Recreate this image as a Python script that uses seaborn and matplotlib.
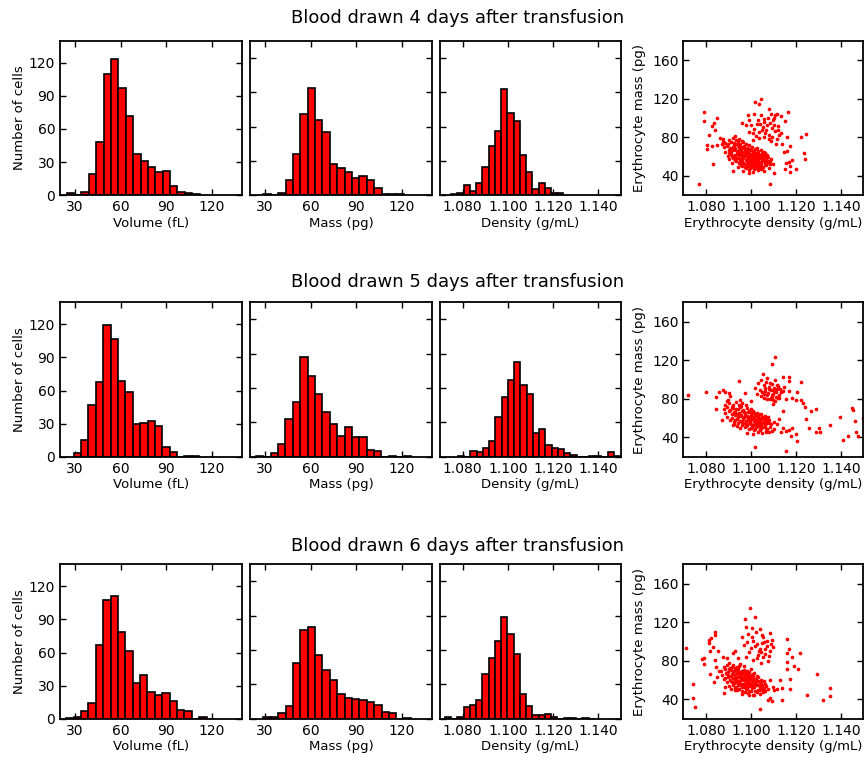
import numpy as np
import pandas as pd
import matplotlib
matplotlib.use("Agg")
import matplotlib.pyplot as plt
import seaborn as sns
from matplotlib.ticker import FormatStrFormatter

# ---------------- data ----------------
days = ["4", "5", "6"]

# volume / mass histograms share the same bin width (fL / pg)
vm_bin_width = 4.87
volume_start = [24.4, 29.0, 24.1]
volume_counts = [
    [2, 0, 3, 19, 48, 110, 123, 97, 72, 37, 31, 26, 21, 22, 8, 3, 2, 1],
    [3, 15, 47, 68, 119, 107, 69, 59, 30, 31, 32, 28, 9, 4, 0, 1, 1],
    [1, 2, 7, 14, 67, 108, 111, 79, 61, 32, 40, 24, 22, 23, 16, 8, 7, 0, 2, 0],
]
mass_start = [28.8, 23.9, 28.8]
mass_counts = [
    [1, 0, 2, 13, 36, 71, 94, 66, 55, 27, 24, 20, 15, 17, 13, 6, 1, 1, 1],
    [1, 0, 3, 11, 33, 48, 87, 71, 55, 39, 29, 18, 26, 17, 17, 6, 5, 0, 1, 0, 1],
    [2, 2, 5, 11, 49, 78, 80, 56, 43, 34, 22, 18, 17, 16, 15, 12, 6, 5, 0, 1],
]
density_bin_width = 0.00276
density_start = [1.0749, 1.0779, 1.0722]
density_counts = [
    [1, 2, 9, 4, 11, 25, 43, 56, 93, 72, 65, 35, 20, 5, 11, 6, 2, 2],
    [1, 0, 5, 4, 8, 14, 35, 52, 67, 83, 63, 55, 21, 24, 10, 8, 7, 3, 2, 0, 0, 1, 1, 0, 4, 1],
    [2, 0, 2, 10, 12, 16, 39, 53, 68, 89, 74, 57, 22, 11, 3, 3, 4, 2, 0, 1, 1, 0, 1, 0],
]

# scatter: (density g/mL, mass pg) per cell
day4_points = [
    (1.0768, 31.7), (1.0793, 106.2), (1.0791, 96.9), (1.0851, 100.3), (1.0837, 94.8), (1.0829, 91.4),
    (1.0841, 87.9), (1.0813, 82.8), (1.0804, 72.4), (1.0807, 68.3), (1.0828, 70.7), (1.0834, 52.1),
    (1.0851, 72.4), (1.0862, 79.7), (1.0876, 76.2), (1.1047, 120), (1.1019, 116.6), (1.1038, 114.8),
    (1.0988, 102.8), (1.0962, 94.8), (1.1015, 103.8), (1.1082, 109), (1.1165, 105.9), (1.1116, 103.8),
    (1.1135, 101.7), (1.115, 96.6), (1.1244, 83.1), (1.1222, 80.3), (1.1235, 63.8), (1.1241, 57.9),
    (1.12, 47.6), (1.1174, 50), (1.1168, 54.1), (1.1156, 53.4), (1.115, 47.6), (1.1172, 44.5),
    (1.1185, 56.9), (1.1149, 64.8), (1.1163, 65.9), (1.1174, 70.7), (1.114, 73.4), (1.116, 80.3),
    (1.1112, 72.8), (1.1087, 31.4), (1.1104, 43.4), (1.0921, 45.2), (1.0993, 43.1), (1.1116, 77.9),
    (1.1079, 77.9), (1.1089, 76.2), (1.1134, 84.5), (1.1119, 87.2), (1.1104, 92.4), (1.1097, 97.6),
    (1.1075, 100.3), (1.106, 95.9), (1.1053, 90.7), (1.1068, 87.2), (1.1038, 85.5), (1.1016, 89),
    (1.1001, 92.4), (1.0994, 97.6), (1.1031, 97.6), (1.109, 103.8), (1.1107, 102.8), (1.1047, 102.8),
    (1.1024, 81.4), (1.1009, 76.9), (1.106, 80.3), (1.1082, 82.1), (1.0994, 85.5), (1.0979, 92.4),
    (1.1042, 93.5), (1.1058, 98.8), (1.1071, 93.2), (1.1085, 95.1), (1.1094, 89.6), (1.1108, 86.3),
    (1.1121, 91.2), (1.1127, 82.6), (1.1063, 84.1), (1.1049, 87.8), (1.1027, 93.9), (1.1012, 84.2),
    (1.1036, 79.4), (1.1093, 80.7), (1.1101, 99.6),
    (1.0965, 45), (1.0992, 46.5), (1.1008, 44.5), (1.1031, 46), (1.1047, 47.5), (1.1022, 48),
    (1.0978, 47.8), (1.1059, 45.5),
    (1.0941, 49), (1.0958, 51), (1.0973, 49.5), (1.0989, 50.5), (1.1003, 49), (1.1016, 51.5),
    (1.1029, 50), (1.1041, 51), (1.1054, 49.2), (1.1068, 50.8), (1.1082, 48.5), (1.0997, 51.8),
    (1.1035, 48.6),
    (1.0918, 53), (1.0935, 55), (1.0948, 53.5), (1.0962, 55.5), (1.0971, 52.5), (1.0984, 54),
    (1.0995, 55.8), (1.1006, 53), (1.1013, 55), (1.1024, 52.4), (1.1037, 54.6), (1.1046, 53.2),
    (1.1058, 55.3), (1.1071, 53.8), (1.1085, 52.6), (1.0955, 52.2), (1.0989, 52.9), (1.1019, 56),
    (1.1063, 56.1),
    (1.0905, 57), (1.0922, 58.5), (1.0931, 56.5), (1.0944, 59), (1.0953, 57.3), (1.0966, 58.6),
    (1.0977, 56.8), (1.0986, 59.5), (1.0994, 57.6), (1.1002, 58.9), (1.1011, 56.5), (1.1021, 59.2),
    (1.1029, 57.4), (1.1038, 58.8), (1.1049, 56.9), (1.1057, 59.4), (1.1069, 57.7), (1.1078, 59.1),
    (1.0961, 60), (1.0999, 60), (1.1033, 60), (1.1091, 57.5),
    (1.0898, 61), (1.0912, 62.5), (1.0925, 60.5), (1.0937, 63), (1.0946, 61.4), (1.0958, 62.8),
    (1.0969, 60.9), (1.0979, 63.4), (1.0988, 61.8), (1.0996, 63.1), (1.1005, 61.2), (1.1014, 62.9),
    (1.1023, 61.5), (1.1032, 63.6), (1.1042, 62.1), (1.1052, 60.7), (1.1061, 63.2), (1.1074, 61.6),
    (1.0972, 64), (1.1009, 64), (1.0941, 64),
    (1.0885, 65), (1.0902, 66.5), (1.0914, 64.6), (1.0927, 67), (1.0939, 65.6), (1.0951, 67.4),
    (1.0963, 65.2), (1.0975, 66.9), (1.0986, 64.9), (1.0997, 67.2), (1.1008, 65.7), (1.1019, 67.5),
    (1.1031, 65.3), (1.1045, 66.8), (1.1058, 64.7), (1.0957, 68), (1.0995, 68),
    (1.0879, 69.5), (1.0893, 71), (1.0906, 68.7), (1.0919, 70.4), (1.0932, 69), (1.0944, 71.6),
    (1.0956, 69.8), (1.0968, 71.2), (1.0981, 69.3), (1.0993, 71.5), (1.1004, 70), (1.1027, 69.2),
    (1.0925, 72),
    (1.0871, 73), (1.0886, 74.5), (1.0899, 72.8), (1.0913, 75.3), (1.0927, 73.6), (1.0941, 75.8),
    (1.0954, 73.2), (1.0967, 74.9), (1.0979, 73.1), (1.0962, 76.5),
    (1.0903, 77.5), (1.0921, 79), (1.0936, 77), (1.0949, 78.6), (1.0878, 78.5), (1.0930, 81),
    (1.0951, 55.9), (1.0967, 53.7), (1.0983, 57.2), (1.0991, 54.8), (1.1001, 56.4), (1.1009, 59.7),
    (1.1017, 53.9), (1.1026, 57.8), (1.1034, 55.7), (1.1043, 59.9), (1.1052, 57.6), (1.1066, 54.6),
    (1.0973, 61.7), (1.0985, 60.6), (1.0992, 62.4), (1.1007, 62.3), (1.1018, 60.3), (1.1027, 62.6),
    (1.1039, 60.9), (1.1048, 63.8), (1.0958, 64.7), (1.0981, 65.8), (1.1003, 66.6), (1.1014, 65.1),
    (1.1025, 63.9), (1.0946, 66.3), (1.0931, 62.1), (1.0962, 50.4), (1.0981, 51.6), (1.1011, 50.2),
    (1.1027, 53.6), (1.1044, 50.3), (1.1061, 52.1), (1.1076, 55.9), (1.0998, 48.2), (1.1013, 47.1),
    (1.1051, 48.1), (1.0969, 68.9), (1.0987, 68.3), (1.0936, 58.1), (1.0916, 60.1), (1.0913, 68.2),
    (1.0949, 69.5), (1.0939, 72.9), (1.0989, 57.1), (1.1053, 62.3), (1.1067, 60.2), (1.1086, 55.1),
    (1.1097, 51.8), (1.0903, 63.8),
]

day5_points = [
    (1.1397, 61.7), (1.145, 70.3), (1.1453, 68.6), (1.1465, 57.2), (1.1499, 59.9), (1.1466, 45.2),
    (1.1431, 41.4), (1.141, 37.8), (1.1475, 41.4), (1.1353, 53.1), (1.1303, 50), (1.129, 45.8),
    (1.1307, 46.2), (1.1291, 70), (1.1266, 67.6), (1.1258, 49.7), (1.1247, 59), (1.1225, 97.9),
    (1.1207, 86.6), (1.12, 78.6), (1.1222, 79), (1.1234, 75.5), (1.1241, 71.7), (1.1156, 26.2),
    (1.1207, 36.6), (1.12, 43.4), (1.1178, 41.7), (1.1107, 123.8), (1.1096, 116.6), (1.1056, 105.5),
    (1.0949, 98.6), (1.1019, 29.7), (1.0722, 83.8), (1.0799, 87.2), (1.0847, 69.3), (1.0846, 82.1),
    (1.0859, 87.6), (1.0876, 89.3), (1.0884, 87.6), (1.0903, 85.9), (1.0909, 83.1), (1.0899, 79),
    (1.0874, 57.9), (1.0924, 53.8), (1.0974, 85.9), (1.095, 79), (1.1, 77.9), (1.1171, 102.8),
    (1.1168, 98.6), (1.1141, 102.8), (1.1122, 93.4), (1.1141, 88.3), (1.1171, 88.3), (1.1185, 81.4),
    (1.1156, 79.7), (1.1127, 81.4), (1.109, 81.4), (1.11, 74.5), (1.1141, 67.6), (1.1126, 59),
    (1.1141, 50.3), (1.1156, 46.9), (1.1134, 46.2), (1.1171, 48), (1.1185, 49.7), (1.1116, 53.8),
    (1.1032, 96.5), (1.1045, 99.2), (1.1058, 94.1), (1.1068, 97.8), (1.1081, 92.6), (1.1093, 95.9),
    (1.1104, 91.3), (1.1117, 94.4), (1.1128, 90.2), (1.1039, 89.6), (1.1052, 87.3), (1.1063, 90.8),
    (1.1076, 86.1), (1.1088, 88.9), (1.1099, 85.4), (1.1112, 87.6), (1.1124, 84.3), (1.1135, 86.8),
    (1.1047, 82.5), (1.1059, 80.4), (1.1072, 83.7), (1.1084, 79.6), (1.1096, 81.9), (1.1109, 78.3),
    (1.1121, 80.8), (1.1027, 84.9), (1.1018, 91.7), (1.1073, 101.5), (1.1106, 99.3), (1.1146, 92.1),
    (1.0985, 45), (1.1012, 43.5), (1.1034, 46.2), (1.1052, 44.4), (1.1068, 47.1), (1.1079, 45.3),
    (1.1041, 47.9), (1.1095, 46.5),
    (1.0952, 49.5), (1.0974, 50.6), (1.0991, 48.8), (1.1007, 51.2), (1.1019, 49.3), (1.1031, 51.6),
    (1.1046, 49.9), (1.1058, 51.1), (1.1071, 48.7), (1.1086, 50.4), (1.1101, 49.2), (1.0938, 51.8),
    (1.0921, 53.4), (1.0944, 55.2), (1.0959, 52.8), (1.0971, 54.6), (1.0983, 53.1), (1.0996, 55.5),
    (1.1008, 52.6), (1.1017, 54.3), (1.1026, 56), (1.1037, 53.5), (1.1049, 55.1), (1.1061, 52.9),
    (1.1074, 54.7), (1.1089, 53.8), (1.1104, 55.6),
    (1.0908, 57.8), (1.0926, 56.4), (1.0939, 58.9), (1.0952, 57.1), (1.0965, 59.3), (1.0977, 56.7),
    (1.0989, 58.4), (1.0998, 57.2), (1.1006, 59.6), (1.1014, 56.9), (1.1023, 58.2), (1.1033, 59.8),
    (1.1042, 57.5), (1.1055, 58.8), (1.1066, 56.6), (1.1081, 58.3),
    (1.0896, 61.5), (1.0915, 60.4), (1.0929, 62.8), (1.0943, 61.1), (1.0956, 63.4), (1.0968, 60.7),
    (1.0981, 62.5), (1.0993, 61.3), (1.1003, 63.6), (1.1012, 60.9), (1.1025, 62.2), (1.1036, 63.9),
    (1.1048, 61.4), (1.1063, 62.7), (1.1077, 60.8),
    (1.0887, 65.3), (1.0903, 67.2), (1.0918, 64.6), (1.0932, 66.5), (1.0947, 65.1), (1.0961, 67.6),
    (1.0973, 64.9), (1.0986, 66.3), (1.0999, 65.4), (1.1011, 67.1), (1.1028, 65.8), (1.1044, 64.3),
    (1.0879, 69.4), (1.0894, 71.3), (1.0908, 68.6), (1.0922, 70.8), (1.0936, 69.2), (1.0951, 71.5),
    (1.0966, 68.9), (1.0983, 70.5), (1.1002, 69.6), (1.0915, 72),
    (1.0885, 73.6), (1.0902, 75.8), (1.0919, 74.1), (1.0934, 76.4), (1.0948, 73.2), (1.0963, 75.5),
    (1.0896, 77.5), (1.0978, 73.9),
    (1.0962, 56.1), (1.0985, 54.4), (1.0994, 59.1), (1.1001, 53.6), (1.1013, 58.7), (1.1022, 55.1),
    (1.1031, 57.3), (1.1039, 55.9), (1.1047, 53.2), (1.1057, 56.3), (1.1069, 58.9), (1.0975, 62.1),
    (1.0987, 60.3), (1.0999, 62.7), (1.1008, 61.4), (1.1019, 63.7), (1.1031, 61.8), (1.1041, 60.1),
    (1.1056, 60.9), (1.0955, 61.8), (1.0941, 64.6), (1.0969, 66.2), (1.0992, 67.9), (1.1016, 65.2),
    (1.0978, 52.1), (1.1002, 50.1), (1.1024, 50.7), (1.1039, 49.1), (1.1064, 50.9), (1.1083, 55.1),
    (1.0925, 66.1), (1.0944, 69.8), (1.0958, 72.8), (1.1014, 48.2), (1.1067, 45.8), (1.0929, 58.6),
    (1.1064, 88.2), (1.1079, 90.4), (1.1092, 83.6), (1.1103, 88.1), (1.1114, 82.4), (1.1086, 96.8),
    (1.1057, 85.2), (1.1071, 80.2), (1.1118, 90.6), (1.1098, 78.9),
]

day6_points = [
    (1.0997, 134.5), (1.0974, 123.1), (1.1019, 125.2), (1.0979, 115.5), (1.1004, 113.8), (1.1041, 113.1),
    (1.1085, 108.6), (1.0959, 104.5), (1.0988, 107.6), (1.1024, 110.3), (1.1049, 106.9), (1.1071, 101),
    (1.1094, 101.7), (1.105, 98.3), (1.1009, 101), (1.0969, 96.6), (1.1001, 93.1), (1.1035, 90.7),
    (1.1062, 92.1), (1.1085, 89.7), (1.11, 94.8), (1.1031, 86.2), (1.1053, 84.5), (1.0979, 83.8),
    (1.1075, 80.3), (1.1047, 78.3), (1.1012, 81), (1.1163, 102.4), (1.1168, 92.1), (1.1159, 87.9),
    (1.1185, 84.5), (1.1219, 87.9), (1.1163, 79.3), (1.1194, 74.8), (1.121, 71.4), (1.1163, 71.4),
    (1.1172, 61), (1.1174, 50.7), (1.1129, 60.3), (1.1138, 52.4), (1.1115, 50.7), (1.1097, 53.4),
    (1.1104, 50), (1.1085, 41.4), (1.1094, 38.3), (1.1075, 39), (1.1138, 39), (1.1041, 30),
    (1.1293, 66.2), (1.1351, 52.4), (1.1354, 44.1), (1.1319, 39.7), (1.1249, 44.8), (1.0712, 93.8),
    (1.0743, 55.9), (1.0743, 41.4), (1.075, 32.1), (1.0843, 109.7), (1.0843, 106.9), (1.0822, 103.4),
    (1.0813, 101.7), (1.0815, 98.3), (1.0832, 94.8), (1.0856, 90.7), (1.0818, 90.7), (1.0794, 82.8),
    (1.0785, 81.7), (1.0791, 76.9), (1.0819, 66.6), (1.0841, 81), (1.0847, 74.1), (1.085, 63.8),
    (1.0837, 58.6), (1.0859, 69), (1.0876, 83.8), (1.0896, 83.4), (1.0921, 88.6), (1.0932, 89.7),
    (1.0943, 82.8), (1.0885, 52.8), (1.0882, 47.2), (1.0928, 51.7), (1.0994, 44.8), (1.1016, 44.8),
    (1.1053, 48.3), (1.1085, 60.3),
    (1.1005, 104.2), (1.1029, 97.1), (1.1058, 99.4), (1.1039, 92.8), (1.1074, 95.6), (1.0992, 88.7),
    (1.1018, 95.3), (1.1063, 87.5), (1.1081, 84.6), (1.1047, 88.9), (1.1026, 83.2), (1.1089, 97.2),
    (1.0985, 99.1), (1.1053, 104.7),
    (1.0962, 45.2), (1.0988, 46.8), (1.1009, 44.6), (1.1027, 47.3), (1.1041, 45.9), (1.1056, 47.6),
    (1.0975, 47.9),
    (1.0928, 49.6), (1.0946, 51.2), (1.0961, 48.9), (1.0977, 50.7), (1.0992, 49.3), (1.1006, 51.5),
    (1.1019, 48.6), (1.1033, 50.2), (1.1048, 51.8), (1.1062, 49.1), (1.1075, 50.9),
    (1.0902, 53.8), (1.0919, 55.4), (1.0934, 52.7), (1.0948, 54.6), (1.0959, 53.1), (1.0971, 55.8),
    (1.0983, 52.9), (1.0994, 54.3), (1.1003, 56), (1.1015, 53.4), (1.1027, 55.2), (1.1039, 52.6),
    (1.1052, 54.8), (1.1066, 53.5),
    (1.0893, 57.6), (1.0911, 59.3), (1.0924, 56.8), (1.0937, 58.5), (1.0949, 57.2), (1.0958, 59.7),
    (1.0967, 56.4), (1.0978, 58.3), (1.0988, 59.5), (1.0997, 57.1), (1.1008, 58.8), (1.1019, 56.5),
    (1.1031, 59.1), (1.1045, 57.4), (1.1059, 58.7),
    (1.0879, 61.5), (1.0897, 63.2), (1.0909, 60.6), (1.0921, 62.4), (1.0933, 61), (1.0944, 63.7),
    (1.0955, 60.8), (1.0964, 62.9), (1.0975, 61.4), (1.0986, 63.5), (1.0996, 60.9), (1.1007, 62.6),
    (1.1018, 61.2), (1.1032, 63.1), (1.1046, 60.4),
    (1.0874, 65.8), (1.0889, 67.4), (1.0902, 64.7), (1.0916, 66.3), (1.0928, 64.9), (1.0939, 67.6),
    (1.0952, 65.4), (1.0963, 67.1), (1.0976, 64.6), (1.0989, 66.2), (1.1002, 65.1), (1.1016, 67.3),
    (1.1029, 64.8),
    (1.0868, 69.7), (1.0884, 71.2), (1.0897, 68.5), (1.0912, 70.6), (1.0926, 69.1), (1.0941, 71.4),
    (1.0955, 68.8), (1.0969, 70.3), (1.0985, 69.4), (1.1001, 71.1),
    (1.0879, 73.8), (1.0894, 76.1), (1.0908, 72.9), (1.0923, 75.2), (1.0938, 73.5), (1.0953, 76.6),
    (1.0968, 74.2), (1.0905, 77.8),
    (1.0942, 55.9), (1.0957, 56.2), (1.0968, 53.4), (1.0979, 55.1), (1.0991, 56.9), (1.1004, 53.8),
    (1.1013, 55.6), (1.1024, 58.2), (1.0917, 58.2), (1.0931, 60.2), (1.0946, 59.6), (1.0959, 61.9),
    (1.0971, 59.8), (1.0982, 61.1), (1.0993, 62.4), (1.1004, 59.9), (1.1012, 63.9), (1.1024, 60.1),
    (1.0913, 64.2), (1.0934, 63.3), (1.0946, 65.9), (1.0958, 63.6), (1.0969, 65.7), (1.0983, 64.9),
    (1.0995, 64.1), (1.1009, 66.7), (1.0921, 67.9), (1.0934, 70.2), (1.0948, 68.1), (1.0962, 69.6),
    (1.0976, 67.8), (1.0993, 68.7), (1.0901, 71.9), (1.0918, 73.6), (1.0931, 72.1), (1.0946, 74.8),
    (1.0983, 51.6), (1.1002, 48.4), (1.1039, 49.9), (1.1057, 52.4), (1.0914, 51.3), (1.0939, 49.5),
    (1.1042, 55.8), (1.1061, 56.1), (1.0893, 66.3), (1.0886, 62.3),
]
scatter_points = [day4_points, day5_points, day6_points]

vm_xticks = [30, 60, 90, 120]
hist_yticks = [0, 30, 60, 90, 120]
dens_xticks = [1.080, 1.100, 1.120, 1.140]
mass_yticks = [40, 80, 120, 160]

# ---------------- style ----------------
sns.set_style("ticks")
plt.rcParams.update({
    "font.family": ["DejaVu Sans"],
    "text.color": "black", "axes.labelcolor": "black",
    "xtick.direction": "in", "ytick.direction": "in",
    "xtick.top": True, "ytick.right": True,
    "xtick.major.size": 4.5, "ytick.major.size": 4.5,
    "xtick.major.width": 1.0, "ytick.major.width": 1.0,
    "axes.linewidth": 1.3, "axes.edgecolor": "black",
    "xtick.color": "black", "ytick.color": "black",
    "xtick.labelsize": 10, "ytick.labelsize": 10,
    "axes.labelsize": 9.5,
})

fig = plt.figure(figsize=(8.66, 7.60), dpi=100)
W, H = 866.0, 760.0
row_top_px = [40.7, 302.3, 564.3]
ax_h_px = 154.5
col_left_px = [60.0, 250.0, 440.0, 683.3]
col_w_px = [182.0, 182.0, 181.0, 180.0]
title_y_px = [18, 282, 546]


def add_ax(row, col):
    l = col_left_px[col] / W
    b = 1 - (row_top_px[row] + ax_h_px) / H
    return fig.add_axes([l, b, col_w_px[col] / W, ax_h_px / H])


def hist(ax, start, width, counts):
    n = len(counts)
    edges = [start + width * i for i in range(n + 1)]
    centers = [e + width / 2 for e in edges[:-1]]
    df = pd.DataFrame({"x": centers, "w": counts})
    sns.histplot(data=df, x="x", weights="w", bins=edges, stat="count",
                 color="red", edgecolor="black", linewidth=1.2, alpha=1.0, ax=ax)


for r in range(3):
    # volume
    ax = add_ax(r, 0)
    hist(ax, volume_start[r], vm_bin_width, volume_counts[r])
    ax.set_xlim(20, 140)
    ax.set_ylim(0, 140)
    ax.set_xticks(vm_xticks)
    ax.set_yticks(hist_yticks)
    ax.set_xlabel("Volume (fL)", labelpad=2)
    ax.set_ylabel("Number of cells", labelpad=2)

    # mass
    ax = add_ax(r, 1)
    hist(ax, mass_start[r], vm_bin_width, mass_counts[r])
    ax.set_xlim(20, 140)
    ax.set_ylim(0, 135)
    ax.set_xticks(vm_xticks)
    ax.set_yticks(hist_yticks)
    ax.set_yticklabels([])
    ax.set_xlabel("Mass (pg)", labelpad=2)
    ax.set_ylabel("")

    # density
    ax = add_ax(r, 2)
    hist(ax, density_start[r], density_bin_width, density_counts[r])
    ax.set_xlim(1.07, 1.15)
    ax.set_ylim(0, 135)
    ax.set_xticks(dens_xticks)
    ax.xaxis.set_major_formatter(FormatStrFormatter("%.3f"))
    ax.set_yticks(hist_yticks)
    ax.set_yticklabels([])
    ax.set_xlabel("Density (g/mL)", labelpad=2)
    ax.set_ylabel("")

    # scatter
    ax = add_ax(r, 3)
    pts = pd.DataFrame(scatter_points[r], columns=["density", "mass"])
    sns.scatterplot(data=pts, x="density", y="mass", color="red", s=7,
                    linewidth=0, marker="o", ax=ax)
    ax.set_xlim(1.07, 1.15)
    ax.set_ylim(20, 180)
    ax.set_xticks(dens_xticks)
    ax.xaxis.set_major_formatter(FormatStrFormatter("%.3f"))
    ax.set_yticks(mass_yticks)
    ax.set_xlabel("Erythrocyte density (g/mL)", labelpad=2)
    ax.set_ylabel("Erythrocyte mass (pg)", labelpad=4)

    fig.text(457.5 / W, 1 - title_y_px[r] / H,
             f"Blood drawn {days[r]} days after transfusion",
             ha="center", va="center", fontsize=13, color="black")

fig.savefig("out.png", dpi=100)
